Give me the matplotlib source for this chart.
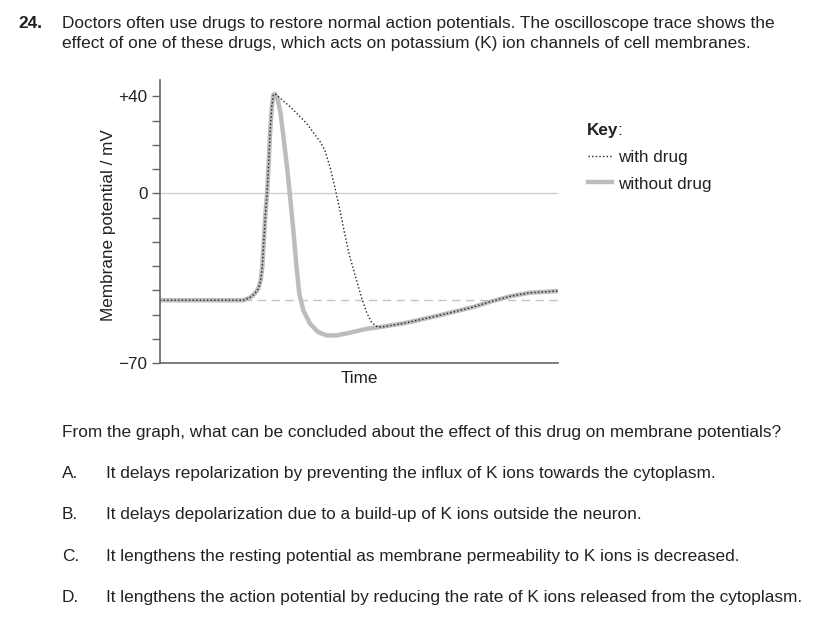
import numpy as np
import matplotlib
matplotlib.use('Agg')
import matplotlib.pyplot as plt

plt.rcParams['font.family'] = ['Liberation Sans', 'DejaVu Sans']

# traces: time (0-100) and membrane potential (mV)
t_without = [0, 20.9, 22.6, 23.8, 24.7, 25.3, 25.7, 26.1, 26.5, 26.9, 27.3, 27.7, 28.1, 28.5, 28.9,
             29.5, 30.3, 31.1, 32.0, 32.6, 33.5, 34.3, 35.0, 36.0, 37.7, 39.7, 41.8, 44.4, 47.7,
             51.9, 55.2, 61.9, 70.3, 78.7, 82.8, 87.9, 92.9, 100]
v_without = [-44.1, -44.1, -43.0, -41.4, -39.3, -35.9, -30.3, -19.3, -8.3, 0, 12.4, 26.2, 35.9, 40.7, 41.1,
             39.3, 33.1, 22.1, 9.7, 0, -15.2, -30.3, -41.4, -48.3, -53.8, -57.2, -58.6, -58.6, -57.5,
             -55.9, -55.2, -53.4, -50.3, -46.9, -44.8, -42.5, -41.0, -40.3]

t_with = [0, 20.9, 22.6, 23.8, 24.7, 25.3, 25.7, 26.1, 26.5, 26.9, 27.3, 27.7, 28.1, 28.5, 28.9,
          32.6, 36.8, 40.2, 41.4, 42.7, 43.9, 45.2, 46.4, 47.7, 49.4, 50.6, 51.9, 53.1, 54.4,
          55.6, 61.9, 70.3, 78.7, 82.8, 87.9, 92.9, 100]
v_with = [-44.1, -44.1, -43.0, -41.4, -39.3, -35.9, -30.3, -19.3, -8.3, 0, 12.4, 26.2, 35.9, 40.7, 41.1,
          35.9, 29.0, 21.4, 17.9, 11.0, 2.8, -6.9, -16.6, -26.2, -35.9, -42.8, -49.0, -53.1, -54.9,
          -55.2, -53.4, -50.3, -46.9, -44.8, -42.5, -41.0, -40.3]

resting = -44.1
yticks = list(range(-70, 41, 10))
ylabels = {40: '+40', 0: '0', -70: '\u221270'}

question = ["Doctors often use drugs to restore normal action potentials. The oscilloscope trace shows the",
            "effect of one of these drugs, which acts on potassium (K) ion channels of cell membranes."]
prompt = "From the graph, what can be concluded about the effect of this drug on membrane potentials?"
options = [("A.", "It delays repolarization by preventing the influx of K ions towards the cytoplasm."),
           ("B.", "It delays depolarization due to a build-up of K ions outside the neuron."),
           ("C.", "It lengthens the resting potential as membrane permeability to K ions is decreased."),
           ("D.", "It lengthens the action potential by reducing the rate of K ions released from the cytoplasm.")]
option_y = [478, 519, 561, 602]

W, H = 836, 627
ink = '#222222'
gray = '#bcbcbe'
fig = plt.figure(figsize=(W / 100, H / 100), dpi=100)

def px(x, y):
    return x / W, 1 - y / H

ax = fig.add_axes([160 / W, 1 - 363 / H, (558 - 160) / W, (363 - 80) / H])
ax.axhline(0, color='#cfcfcf', lw=1)
ax.axhline(resting, color='#c4c4c4', lw=1, dashes=(6, 4))
ax.plot(t_without, v_without, color=gray, lw=3.2, solid_capstyle='round', solid_joinstyle='round')
ax.plot(t_with, v_with, color=ink, lw=1.0, linestyle=(0, (1, 1.6)))

ax.set_xlim(0, 100)
ax.set_ylim(-70, 46.8)
ax.set_xticks([])
ax.set_yticks(yticks)
ax.set_yticklabels([ylabels.get(v, '') for v in yticks], fontsize=12.3, color=ink)
ax.tick_params(axis='y', length=6, width=1, color='#666666', pad=3)
for s in ['top', 'right']:
    ax.spines[s].set_visible(False)
for s in ['left', 'bottom']:
    ax.spines[s].set_color('#666666')
    ax.spines[s].set_linewidth(1.2)
ax.set_xlabel('Time', fontsize=12.3, color=ink, labelpad=6)
fig.text(*px(108, 225), 'Membrane potential / mV', fontsize=12.3, color=ink,
         rotation=90, ha='center', va='center')

# key
fig.text(*px(587, 135), 'Key', fontsize=12.3, fontweight='bold', color=ink, va='baseline')
fig.text(*px(617, 135), ':', fontsize=12.3, color=ink, va='baseline')
fig.lines.append(plt.Line2D([588 / W, 612 / W], [1 - 156 / H] * 2, transform=fig.transFigure,
                            color=ink, lw=1.0, linestyle=(0, (1, 1.6))))
fig.lines.append(plt.Line2D([588 / W, 612 / W], [1 - 182 / H] * 2, transform=fig.transFigure,
                            color=gray, lw=3.2))
fig.text(*px(618, 162), 'with drug', fontsize=12.3, color=ink, va='baseline')
fig.text(*px(618, 189), 'without drug', fontsize=12.3, color=ink, va='baseline')

# question text
fig.text(*px(18, 28), '24.', fontsize=12.4, fontweight='bold', color=ink, va='baseline')
fig.text(*px(62, 28), question[0], fontsize=12.4, color=ink, va='baseline')
fig.text(*px(62, 48), question[1], fontsize=12.4, color=ink, va='baseline')
fig.text(*px(62, 437), prompt, fontsize=12.45, color=ink, va='baseline')
for (letter, txt), y in zip(options, option_y):
    fig.text(*px(62, y), letter, fontsize=12.45, color=ink, va='baseline')
    fig.text(*px(106, y), txt, fontsize=12.45, color=ink, va='baseline')

fig.savefig('out.png', dpi=100)
